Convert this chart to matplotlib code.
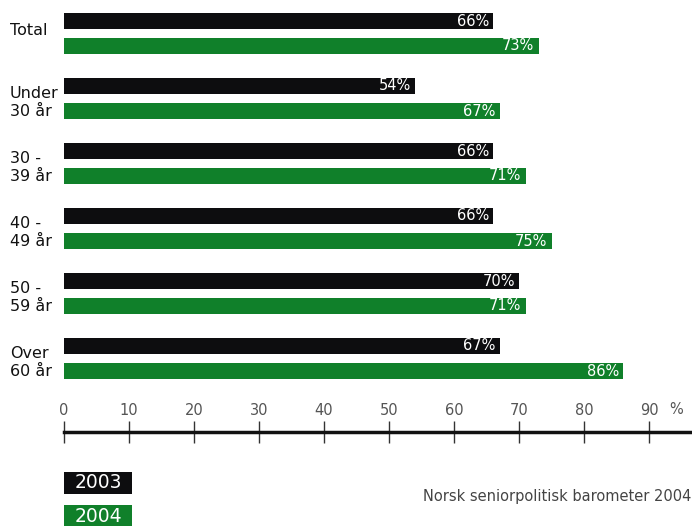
import matplotlib.pyplot as plt
import matplotlib.transforms as mtransforms
from matplotlib.patches import Rectangle
import numpy as np

# DATA
categories = ["Total", "Under\n30 år", "30 -\n39 år", "40 -\n49 år", "50 -\n59 år", "Over\n60 år"]
vals_2003 = [66, 54, 66, 66, 70, 67]
vals_2004 = [73, 67, 71, 75, 71, 86]
series_names = ["2003", "2004"]
x_ticks = [0, 10, 20, 30, 40, 50, 60, 70, 80, 90]
source = "Norsk seniorpolitisk barometer 2004"

BLACK = '#0d0d0f'
GREEN = '#10802a'
W, H = 692, 526

fig = plt.figure(figsize=(W / 100, H / 100), dpi=100)

# main bar axes: pixel x 64..692, y 0..390
XMAX = (W - 64) / 6.5
ax = fig.add_axes([64 / W, 1 - 390 / H, 1 - 64 / W, 390 / H])
ax.set_xlim(0, XMAX)
ax.set_ylim((390 - 33.5) / 65, -33.5 / 65)
ax.axis('off')

y = np.arange(len(categories))
off = 12.5 / 65
bh = 16 / 65
b1 = ax.barh(y - off, vals_2003, height=bh, color=BLACK)
b2 = ax.barh(y + off, vals_2004, height=bh, color=GREEN)

for bars, vals in ((b1, vals_2003), (b2, vals_2004)):
    for rect, v in zip(bars, vals):
        ax.annotate(f"{v}%", (v, rect.get_y() + rect.get_height() / 2),
                    xytext=(-3, 0), textcoords='offset points',
                    ha='right', va='center', color='white', fontsize=10.5)

trans = mtransforms.blended_transform_factory(ax.transAxes, ax.transData)
for i, lab in enumerate(categories):
    dy = 0.06 if "\n" in lab else -0.04
    ax.text(-54 / 628, i + dy, lab, transform=trans, ha='left', va='center',
            fontsize=11.5, color='#111111', linespacing=1.2)

# ruler axis: top spine at pixel y 432
ax2 = fig.add_axes([64 / W, 1 - 442 / H, 1 - 64 / W, 10 / H])
ax2.set_xlim(0, XMAX)
ax2.set_yticks([])
for s in ('left', 'right', 'bottom'):
    ax2.spines[s].set_visible(False)
ax2.spines['top'].set_linewidth(2.5)
ax2.spines['top'].set_color('#111111')
ax2.set_facecolor('none')
ax2.set_xticks(x_ticks)
ax2.xaxis.set_ticks_position('top')
ax2.tick_params(axis='x', direction='inout', length=16, width=1, color='#333333',
                labeltop=True, labelbottom=False, pad=2, labelsize=10.5,
                labelcolor='#555555')
ax2.text(94.2, 3.2, "%", transform=mtransforms.blended_transform_factory(ax2.transData, ax2.transAxes),
         ha='center', va='center', fontsize=10.5, color='#555555')

# legend boxes
for k, (name, col) in enumerate(zip(series_names, [BLACK, GREEN])):
    top = 472 + 33 * k
    fig.add_artist(Rectangle((64 / W, 1 - (top + 22) / H), 68 / W, 22 / H,
                             transform=fig.transFigure, fc=col, ec='none'))
    fig.text(98 / W, 1 - (top + 11) / H, name, ha='center', va='center',
             color='white', fontsize=13.5)

fig.text(423 / W, 1 - 496 / H, source, ha='left', va='center', color='#444444', fontsize=10.5)

fig.savefig("out.png", dpi=100)
